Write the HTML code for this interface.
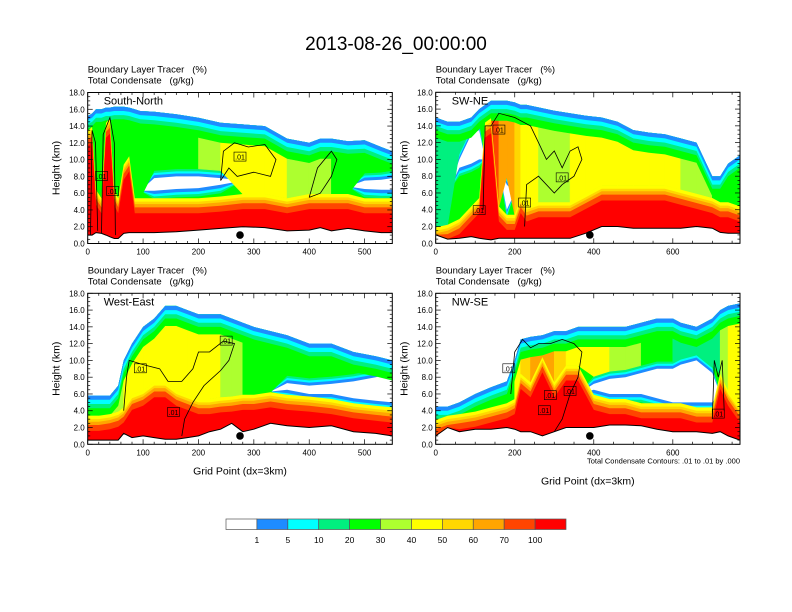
<!DOCTYPE html>
<html><head><meta charset="utf-8"><title>Boundary Layer Tracer</title>
<style>
body{margin:0;background:#fff;}
svg{display:block;font-family:"Liberation Sans",Arial,sans-serif;}
</style></head>
<body>
<svg id="chart" width="792" height="612" viewBox="0 0 792 612" xmlns="http://www.w3.org/2000/svg">
<rect width="792" height="612" fill="#fff"/>
<text x="396" y="50" font-size="19" text-anchor="middle">2013-08-26_00:00:00</text>
<g id="panels"></g>
<g id="colorbar"></g>
</svg>
<script>
// ---- colour scale ----
const levelColors = ["#ffffff","#1e8cff","#00ffff","#00f07f","#00ff00","#adff2f","#ffff00","#ffd700","#ffa500","#ff4500","#ff0000"];
const levelLabels = ["1","5","10","20","30","40","50","60","70","100"];

// ---- Panel 1: South-North ----
const p1Grid   = [0,8,15,25,33,40,48,55,65,75,85,95,120,160,200,240,280,320,360,400,420,440,470,500,530,550];
const p1Ground = [1.0,1.0,1.3,1.2,1.0,0.8,0.6,0.6,1.2,1.3,1.3,1.3,1.3,1.4,1.6,1.8,2.0,1.9,1.5,1.6,1.9,1.5,1.8,1.5,1.3,1.3];
const p1BlTop  = [13.0,13.5,6.0,5.0,14.0,14.5,6.0,5.0,9.0,10.0,5.0,5.0,5.0,5.0,5.0,5.2,5.5,5.5,5.0,5.5,5.5,5.5,5.5,5.0,5.0,5.0];
const p1GapBot = [7,7,7,7,7,7,7,7,7,7,7,6.3,6.3,6.5,6.6,7.0,7.5,7,7,7,7,7,6.8,6.5,6.4,6.4];
const p1GapTop = [7,7,7,7,7,7,7,7,7,7,7,6.3,7.8,8.0,8.0,7.8,7.5,7,7,7,7,7,6.8,7.5,7.6,7.8];
const p1Top    = [15.2,15.5,16.0,16.0,16.2,16.2,16.3,16.3,16.3,16.2,16.0,15.8,15.7,15.4,15.0,14.4,14.2,14.0,12.5,12.0,12.5,12.5,12.2,12.3,11.5,11.0];
const p1Core   = [4,4,4,4,4,4,4,4,4,4,4,4,4,4,5,6,6,6,5,5,5,4,4,4,4,4];

// ---- Panel 2: SW-NE ----
const p2Grid   = [0,30,60,90,110,125,140,160,180,200,215,230,260,300,340,380,420,460,500,540,580,620,660,700,720,740,770];
const p2Ground = [1.0,0.5,0.6,0.8,0.6,0.5,0.4,0.6,0.6,0.6,0.6,0.6,0.6,0.6,0.6,1.2,2.0,2.0,1.8,1.8,1.8,1.8,2.0,1.8,1.3,1.2,1.2];
const p2BlTop  = [1.5,1.8,2.5,4.0,5.0,14.0,14.5,4.0,3.0,3.0,5.0,4.0,4.5,4.5,4.5,5.5,6.5,6.5,6.5,6.5,6.5,6.0,5.5,5.0,4.5,4.5,4.0];
const p2GapBot = [6,6,9.0,9.5,10.0,10,9,9,4.0,6,6,6,6,6,6,6,6,6,6,6,6,6,6,6,6,6,6];
const p2GapTop = [6,6,10.0,13.0,13.5,10,9,9,7.0,6,6,6,6,6,6,6,6,6,6,6,6,6,6,6,6,6,6];
const p2Top    = [15.0,14.5,14.5,15.0,16.0,16.5,17.0,17.0,17.0,16.8,16.5,16.5,16.2,15.8,15.5,15.2,15.0,14.5,13.5,13.2,13.0,12.5,12.0,8.0,8.0,9.5,10.5];
const p2Core   = [3,3,3,4,8,9,9,8,8,7,6,6,5,5,6,6,6,6,6,6,6,5,5,4,4,4,4];

// ---- Panel 3: West-East ----
const p3Grid   = [0,20,40,55,65,80,100,120,140,160,180,200,220,240,260,280,300,330,360,400,440,480,520,550];
const p3Ground = [0.5,0.5,0.5,0.5,1.3,0.8,1.0,0.8,0.6,0.6,0.8,1.0,1.5,1.8,2.5,1.5,1.8,2.5,2.2,2.0,2.2,1.5,1.3,1.0];
const p3BlTop  = [3.0,3.0,3.2,3.5,4.0,5.5,6.0,7.0,7.0,6.0,5.5,5.0,5.0,5.2,5.3,5.5,5.5,5.8,5.5,5.3,5.0,4.5,4.2,4.0];
const p3GapBot = [6,6,6,6,6,6,6,6,6,6,6,6,6,6,6,6,6.3,6.3,6.5,6.0,6.0,5.5,5.2,5.0];
const p3GapTop = [6,6,6,6,6,6,6,6,6,6,6,6,6,6,6,6,6.3,6.3,7.3,7.0,7.2,7.5,8.0,8.5];
const p3Top    = [5.8,5.8,5.8,7.0,10.0,12.0,14.0,15.0,16.5,16.5,16.0,15.5,15.5,15.5,15.0,14.5,14.0,13.5,13.0,12.0,12.0,11.0,10.5,10.0];
const p3Core   = [5,5,5,5,6,6,6,6,6,6,6,6,6,5,5,4,4,4,4,4,4,4,4,4];

// ---- Panel 4: NW-SE ----
const p4Grid   = [0,30,60,100,140,180,200,215,240,270,300,330,360,400,440,480,520,560,600,620,660,700,720,740,770];
const p4Ground = [1.0,2.0,1.5,1.8,1.8,2.0,1.8,1.5,1.5,1.0,1.5,2.0,2.0,2.0,2.3,2.3,2.2,1.8,1.5,1.5,1.5,1.3,1.5,1.0,0.5];
const p4BlTop  = [2.5,3.0,3.2,3.5,4.0,4.5,5.0,8.0,7.0,10.0,7.0,9.0,9.0,5.5,5.0,5.0,4.5,4.5,4.5,4.5,4.0,4.0,8.0,6.0,4.0];
const p4GapBot = [6,6,6,6,6,6,6,6,6,6,6,6,6,6.5,6.0,6.0,6.0,5.5,5.0,5.0,5.0,5.0,6,6,6];
const p4GapTop = [6,6,6,6,6,6,6,6,6,6,6,6,6,7.2,7.8,8.0,8.5,9.0,9.0,9.5,10.0,8.5,6,6,6];
const p4Top    = [4.5,4.5,5.0,6.0,6.8,7.5,10,12.5,12.8,13.0,13.5,13.5,14.0,14.0,14.0,14.0,14.5,15.0,15.0,14.5,14.0,15.0,16.0,16.5,16.8];
const p4Core   = [4,4,4,4,4,4,6,7,8,8,7,6,6,6,5,5,4,4,3,3,3,3,5,6,6];

// ---- contour (.01 g/kg) lines, [gridpoint, km] ----
const p1Contours = [
 [[240,7.5],[245,11],[265,12],[290,11.5],[320,11.8],[340,10],[330,8],[300,8.5],[270,8],[255,9],[240,7.5]],
 [[400,5.5],[415,9],[440,11],[450,10],[440,8],[420,6],[400,5.5]],
 [[25,1.2],[28,13],[40,15],[48,12],[50,1]],
 [[5,1],[8,13.5],[14,12],[18,1.5]]
];
const p2Contours = [
 [[120,4],[125,14],[140,14],[160,15.5],[200,15],[240,14],[260,12],[280,10],[300,11],[320,9],[340,11],[360,11.5],[370,10],[350,8],[320,7],[300,6],[260,8],[230,7],[225,2]]
];
const p3Contours = [
 [[65,4],[70,8],[75,10],[100,9.5],[130,9.0],[145,7.5],[170,7.5],[190,9],[200,11],[220,11],[245,12.3],[265,12],[255,10],[240,8.8],[210,7],[190,5],[175,3],[170,1]]
];
const p4Contours = [
 [[190,6],[200,11],[220,12.5],[240,11.5],[260,12],[290,12],[320,12.5],[350,12],[370,11],[360,8],[340,6],[320,3],[300,1.5]],
 [[700,3],[705,10],[715,8],[725,10],[730,4]]
];
const p1Labels = [[25,8.0],[45,6.2],[275,10.3]];
const p2Labels = [[110,3.9],[160,13.5],[320,7.8],[225,4.8]];
const p3Labels = [[95,9.0],[155,3.8],[250,12.3]];
const p4Labels = [[185,9.0],[290,5.8],[340,6.3],[275,4.0],[715,3.6]];

const NS = "http://www.w3.org/2000/svg";
function mk(tag, attrs, parent){const e=document.createElementNS(NS,tag);for(const k in attrs)e.setAttribute(k,attrs[k]);if(parent)parent.appendChild(e);return e;}

const panels = [
 {name:"south-north",title:"South-North",x0:87.7,y0:92.5,w:304.6,h:151,xmax:550,xt:[0,100,200,300,400,500],xminor:20,dot:275,
  grid:p1Grid,ground:p1Ground,bl:p1BlTop,gb:p1GapBot,gt:p1GapTop,top:p1Top,core:p1Core,cont:p1Contours,labs:p1Labels},
 {name:"sw-ne",title:"SW-NE",x0:435.7,y0:92.3,w:304.3,h:151,xmax:770,xt:[0,200,400,600],xminor:50,dot:390,
  grid:p2Grid,ground:p2Ground,bl:p2BlTop,gb:p2GapBot,gt:p2GapTop,top:p2Top,core:p2Core,cont:p2Contours,labs:p2Labels},
 {name:"west-east",title:"West-East",x0:87.7,y0:293.3,w:304.6,h:151,xmax:550,xt:[0,100,200,300,400,500],xminor:20,dot:275,xlabel:true,
  grid:p3Grid,ground:p3Ground,bl:p3BlTop,gb:p3GapBot,gt:p3GapTop,top:p3Top,core:p3Core,cont:p3Contours,labs:p3Labels},
 {name:"nw-se",title:"NW-SE",x0:435.7,y0:293.3,w:304.3,h:151,xmax:770,xt:[0,200,400,600],xminor:50,dot:390,xlabel:true,note:true,
  grid:p4Grid,ground:p4Ground,bl:p4BlTop,gb:p4GapBot,gt:p4GapTop,top:p4Top,core:p4Core,cont:p4Contours,labs:p4Labels}
];

const root = document.getElementById("panels");
panels.forEach((p,pi)=>{
  const g = mk("g",{},root);
  
  
  const X = v => p.x0 + v*p.w/p.xmax;
  const Y = v => p.y0 + p.h - Math.max(0,Math.min(18,v))*p.h/18;
  const n = p.grid.length;
  const clipId = "clip"+pi;
  const cp = mk("clipPath",{id:clipId},g); mk("rect",{x:p.x0,y:p.y0,width:p.w,height:p.h},cp);
  const fg = mk("g",{"clip-path":"url(#"+clipId+")"},g);
  
  
  function band(lo, hi, color, name){
    let pts=[];
    for(let i=0;i<n;i++){const l=lo(i),h=Math.max(l,hi(i));pts.push(X(p.grid[i]).toFixed(1)+","+Y(h).toFixed(1));}
    for(let i=n-1;i>=0;i--){pts.push(X(p.grid[i]).toFixed(1)+","+Y(lo(i)).toFixed(1));}
    const e = mk("polygon",{points:pts.join(" "),fill:color},fg);
    
    
  }
  const f = i=>Math.min(1,(p.gt[i]-p.gb[i])/0.4);
  band(i=>p.ground[i], i=>p.top[i], levelColors[4], "cloud-base");
  band(i=>p.bl[i]+0.3, i=>f(i)>0 ? p.gb[i]-0.5 : p.bl[i]+0.3, levelColors[4], "lower-green");
  band(i=>p.gb[i]-1.0*f(i), i=>p.gt[i]+0.9*f(i), levelColors[3], "gap-edge-spring");
  band(i=>p.gb[i]-0.7*f(i), i=>p.gt[i]+0.6*f(i), levelColors[2], "gap-edge-cyan");
  band(i=>p.gb[i]-0.4*f(i), i=>p.gt[i]+0.35*f(i), levelColors[1], "gap-edge-blue");
  band(i=>p.gb[i], i=>p.gt[i], "#ffffff", "clear-gap");
  // core quads above the gap (or above boundary layer where no gap)
  const coreLo = i => f(i)>0 ? p.gt[i]+0.9*f(i) : p.bl[i]+0.4;
  for(let i=0;i<n-1;i++){
    const a=i,b=i+1;
    const lo=[coreLo(a),coreLo(b)];
    const hi=[Math.max(lo[0],p.top[a]-2.4),Math.max(lo[1],p.top[b]-2.4)];
    const pts=[[X(p.grid[a]),Y(lo[0])],[X(p.grid[a]),Y(hi[0])],[X(p.grid[b]),Y(hi[1])],[X(p.grid[b]),Y(lo[1])]].map(q=>q[0].toFixed(1)+","+q[1].toFixed(1)).join(" ");
    const e=mk("polygon",{points:pts,fill:levelColors[p.core[i]],stroke:levelColors[p.core[i]],"stroke-width":0.6},fg);
    
    
  }
  [[2.4,4],[1.5,3],[1.0,2],[0.5,1]].forEach(([d,c])=>{
    band(i=>Math.max(p.bl[i],p.top[i]-d), i=>p.top[i], levelColors[c], "cloud-top-band");
  });
  band(i=>p.ground[i], i=>p.bl[i]+0.4, levelColors[6], "bl-yellow");
  band(i=>p.ground[i], i=>p.bl[i], levelColors[7], "bl-gold");
  band(i=>p.ground[i], i=>p.bl[i]-0.3, levelColors[8], "bl-orange");
  band(i=>p.ground[i], i=>p.bl[i]-0.7, levelColors[9], "bl-orangered");
  band(i=>p.ground[i], i=>p.bl[i]-1.4, levelColors[10], "bl-red");
  const tl = mk("polyline",{points:p.grid.map((v,i)=>X(v).toFixed(1)+","+Y(p.ground[i]).toFixed(1)).join(" "),fill:"none",stroke:"#000","stroke-width":1},fg);
  
  
  p.cont.forEach(c=>{
    const e=mk("polyline",{points:c.map(q=>X(q[0]).toFixed(1)+","+Y(q[1]).toFixed(1)).join(" "),fill:"none",stroke:"#000","stroke-width":0.8},fg);
    
    
  });
  p.labs.forEach(q=>{
    const cx=X(q[0]), cy=Y(q[1]);
    const r=mk("rect",{x:cx-6,y:cy-5,width:12,height:9,fill:"none",stroke:"#000","stroke-width":0.6},fg);
    
    
    const t=mk("text",{x:cx,y:cy+2.5,"font-size":7,"text-anchor":"middle"},fg); t.textContent=".01";
    
    
  });
  const d=mk("circle",{cx:X(p.dot),cy:Y(1.0),r:3.8,fill:"#000"},g);
  
  
  const fr=mk("rect",{x:p.x0,y:p.y0,width:p.w,height:p.h,fill:"none",stroke:"#000","stroke-width":1},g);
  
  
  for(let k=0;k<=18;k+=0.5){
    const major = k%2===0, len = major?5:2.5, y=Y(k);
    mk("line",{x1:p.x0,y1:y,x2:p.x0+len,y2:y,stroke:"#000","stroke-width":0.7},g);
    mk("line",{x1:p.x0+p.w,y1:y,x2:p.x0+p.w-len,y2:y,stroke:"#000","stroke-width":0.7},g);
    if(major){
      const t=mk("text",{x:p.x0-3,y:y+3,"font-size":8,"text-anchor":"end"},g); t.textContent=k.toFixed(1);
      
      
    }
  }
  for(let v=0;v<=p.xmax;v+=p.xminor){
    const major = p.xt.includes(v), len=major?5:2.5, x=X(v);
    mk("line",{x1:x,y1:p.y0+p.h,x2:x,y2:p.y0+p.h-len,stroke:"#000","stroke-width":0.7},g);
    mk("line",{x1:x,y1:p.y0,x2:x,y2:p.y0+len,stroke:"#000","stroke-width":0.7},g);
  }
  p.xt.forEach(v=>{
    const t=mk("text",{x:X(v),y:p.y0+p.h+11,"font-size":8,"text-anchor":"middle"},g); t.textContent=v;
    
    
  });
  const t1=mk("text",{x:p.x0,y:p.y0-20,"font-size":9.5},g); t1.textContent="Boundary Layer Tracer   (%)";
  
  
  t1.style.whiteSpace="pre";
  const t2=mk("text",{x:p.x0,y:p.y0-9,"font-size":9.5},g); t2.textContent="Total Condensate   (g/kg)";
  
  
  t2.style.whiteSpace="pre";
  const t3=mk("text",{x:p.x0+16,y:p.y0+12,"font-size":11},g); t3.textContent=p.title;
  
  
  const yl=mk("text",{x:0,y:0,"font-size":10.5,"text-anchor":"middle",transform:"translate("+(p.x0-28)+","+(p.y0+p.h/2)+") rotate(-90)"},g); yl.textContent="Height (km)";
  
  
  if(p.note){
    const nt=mk("text",{x:p.x0+p.w,y:p.y0+p.h+19,"font-size":7.5,"text-anchor":"end"},g); nt.textContent="Total Condensate Contours: .01 to .01 by .000";
    
    
  }
  if(p.xlabel){
    const xl=mk("text",{x:p.x0+p.w/2,y:p.y0+p.h+(p.note?40:30),"font-size":10.5,"text-anchor":"middle"},g); xl.textContent="Grid Point (dx=3km)";
    
    
  }
});

const cb = document.getElementById("colorbar");
const cbX=226, cbY=519, cbW=340/levelColors.length, cbH=10.5;
levelColors.forEach((c,i)=>{
  const r=mk("rect",{x:cbX+i*cbW,y:cbY,width:cbW,height:cbH,fill:c,stroke:"#555","stroke-width":0.7},cb);
  
  
});
levelLabels.forEach((l,i)=>{
  const t=mk("text",{x:cbX+(i+1)*cbW,y:cbY+24,"font-size":8.5,"text-anchor":"middle"},cb); t.textContent=l;
  
  
});
</script>
</body></html>
